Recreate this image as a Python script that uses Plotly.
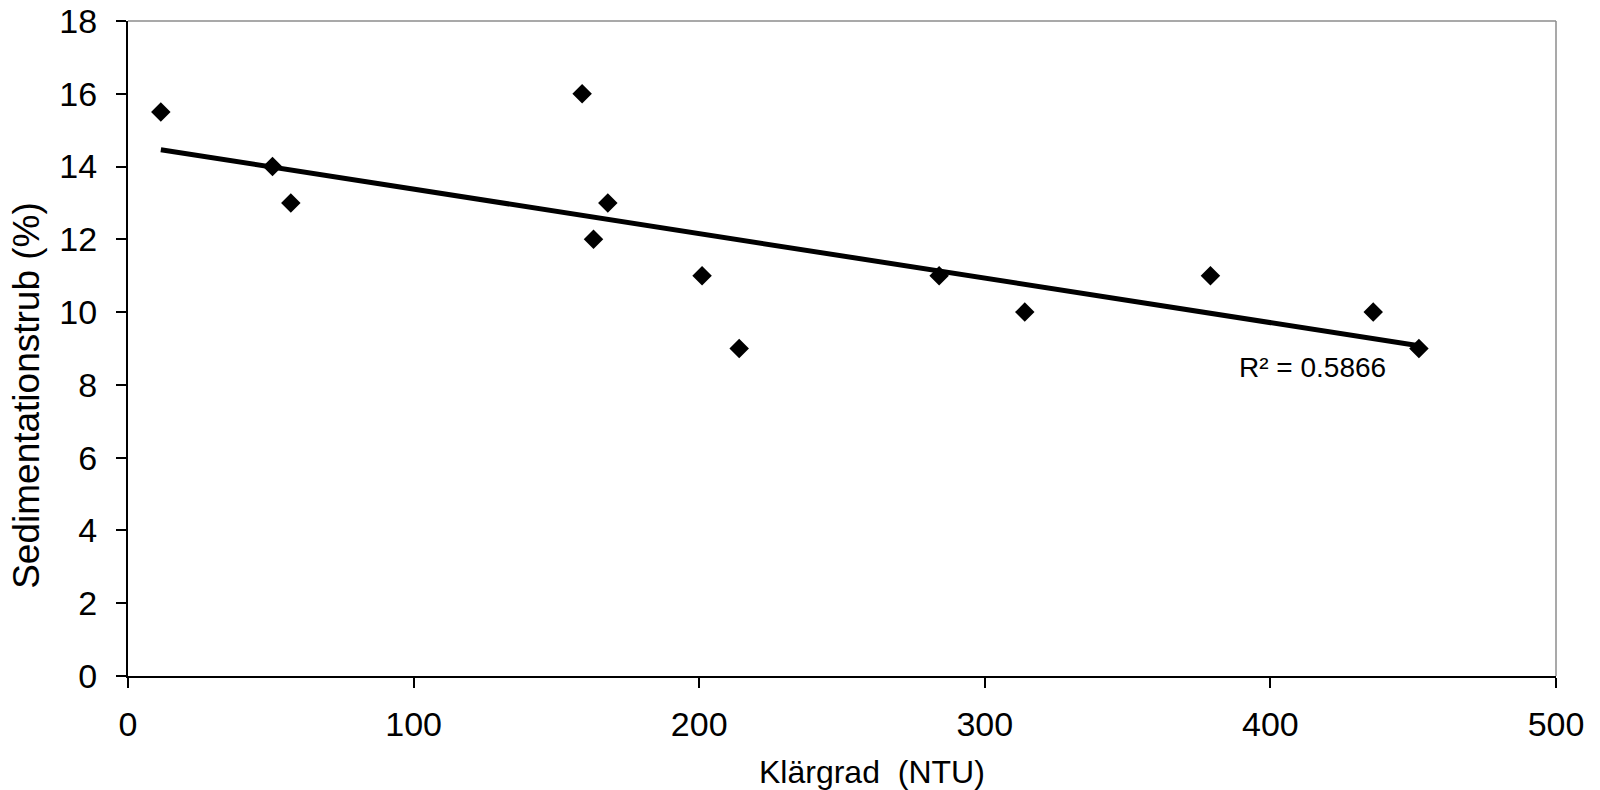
import numpy as np
import plotly.graph_objects as go

# Data
klargrad = [11.5, 50.6, 57, 159, 163, 168, 201, 214, 284, 314, 379, 436, 452]
sediment = [15.5, 14, 13, 16, 12, 13, 11, 9, 11, 10, 11, 10, 9]
r2_label = "R² = 0.5866"
x_ticks = [0, 100, 200, 300, 400, 500]
y_ticks = [0, 2, 4, 6, 8, 10, 12, 14, 16, 18]

# Linear trendline fitted to the data
slope, intercept = np.polyfit(klargrad, sediment, 1)
trend_x = [min(klargrad), max(klargrad)]
trend_y = [slope * v + intercept for v in trend_x]

FONT = "Arial, 'Liberation Sans', sans-serif"

fig = go.Figure()
fig.add_trace(go.Scatter(
    x=trend_x, y=trend_y, mode="lines",
    line=dict(color="black", width=5), hoverinfo="skip", showlegend=False))
fig.add_trace(go.Scatter(
    x=klargrad, y=sediment, mode="markers",
    marker=dict(symbol="diamond", size=15, color="black"),
    showlegend=False))

fig.update_layout(
    width=1600, height=790,
    margin=dict(l=128, r=44, t=21, b=114),
    paper_bgcolor="white", plot_bgcolor="white",
    font=dict(family=FONT, color="black", size=34),
    xaxis=dict(range=[0, 500], tickvals=x_ticks, showgrid=False, zeroline=False,
               showline=True, linecolor="black", linewidth=2, automargin=False,
               ticks="outside", ticklen=10, tickwidth=2, tickcolor="black",
               tickfont=dict(size=34), ticklabelstandoff=7),
    yaxis=dict(range=[0, 18], tickvals=y_ticks, showgrid=False, zeroline=False,
               showline=True, linecolor="black", linewidth=2, automargin=False,
               ticks="outside", ticklen=10, tickwidth=2, tickcolor="black",
               tickfont=dict(size=34), ticklabelstandoff=12),
    shapes=[
        dict(type="line", xref="paper", yref="paper", x0=0, x1=1, y0=1, y1=1,
             line=dict(color="#8c8c8c", width=1.5)),
        dict(type="line", xref="paper", yref="paper", x0=1, x1=1, y0=0, y1=1,
             line=dict(color="#8c8c8c", width=1.5)),
    ],
    annotations=[
        dict(text=r2_label, x=414.6, y=8.49, xref="x", yref="y",
             showarrow=False, font=dict(size=28)),
        dict(text="Klärgrad&nbsp;&nbsp;(NTU)", x=0.521, y=-0.147, xref="paper", yref="paper",
             xanchor="center", yanchor="middle", showarrow=False, font=dict(size=32)),
        dict(text="Sedimentationstrub (%)", x=-0.071, y=0.4287, xref="paper", yref="paper",
             xanchor="center", yanchor="middle", textangle=-90, showarrow=False,
             font=dict(size=37)),
    ],
)

fig.write_html("out.html")
